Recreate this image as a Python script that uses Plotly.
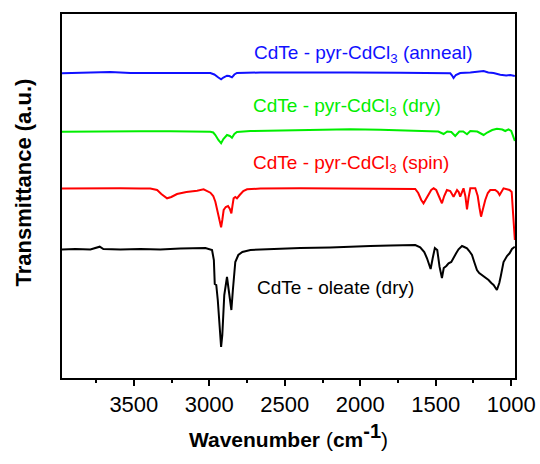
import plotly.graph_objects as go

# ---------------- data (wavenumber in cm-1, transmittance in a.u., stacked) ----------------
oleate_wn = [3976, 3887, 3788, 3726, 3702, 3589, 3457, 3325, 3192, 3060, 3026, 2982, 2970, 2964,
             2954, 2944, 2930, 2922, 2914, 2901, 2883, 2871, 2854, 2844, 2828, 2808, 2781, 2728,
             2596, 2397, 2199, 2066, 1934, 1801, 1669, 1636, 1603, 1576, 1558, 1534, 1520, 1506,
             1490, 1475, 1459, 1447, 1430, 1415, 1397, 1382, 1364, 1349, 1326, 1311, 1293, 1278,
             1260, 1245, 1227, 1212, 1194, 1172, 1150, 1132, 1117, 1095, 1079, 1069, 1051, 1028,
             1011, 995, 976]
oleate_t = [12.85, 12.9, 12.85, 13.13, 12.9, 12.85, 12.9, 12.85, 12.95, 13.0, 13.0, 12.8, 11.8, 9.4,
            9.3, 7.8, 4.3, 3.1, 4.3, 8.3, 10.1, 8.8, 6.8, 8.8, 11.6, 12.3, 12.6, 12.8,
            12.9, 13.0, 13.05, 13.15, 13.2, 13.25, 13.35, 13.3, 13.07, 12.6, 11.97, 10.9, 12.0, 13.0,
            12.8, 11.13, 10.0, 11.0, 11.2, 11.47, 11.6, 12.07, 12.5, 12.87, 13.2, 13.1, 12.97, 12.7,
            12.3, 11.6, 10.8, 10.5, 10.3, 10.0, 9.8, 9.5, 9.3, 8.8, 9.5, 10.2, 11.6, 12.2,
            12.47, 12.9, 13.13]

spin_wn = [3976, 3854, 3722, 3589, 3457, 3391, 3346, 3318, 3280, 3252, 3214, 3152, 3081, 3038,
           2993, 2974, 2960, 2945, 2930, 2922, 2914, 2905, 2891, 2876, 2864, 2854, 2846, 2839,
           2828, 2817, 2799, 2775, 2750, 2662, 2397, 2066, 1735, 1655, 1636, 1616, 1596, 1581,
           1563, 1548, 1530, 1514, 1497, 1477, 1459, 1444, 1426, 1404, 1382, 1359, 1348, 1338,
           1326, 1316, 1304, 1293, 1283, 1271, 1238, 1222, 1210, 1200, 1189, 1172, 1155, 1139,
           1106, 1089, 1077, 1063, 1051, 1011, 997, 987, 976]
spin_t = [18.95, 18.97, 18.95, 18.97, 18.95, 18.95, 18.8, 18.4, 17.97, 18.1, 18.4, 18.6, 18.73, 18.87,
          18.53, 18.2, 17.63, 16.5, 15.6, 15.07, 15.8, 16.8, 17.1, 17.2, 16.9, 16.47, 17.3, 17.97,
          18.1, 17.97, 18.3, 18.7, 18.87, 18.95, 18.97, 18.95, 18.97, 18.95, 18.9, 18.5, 17.8, 17.47,
          17.9, 18.3, 18.8, 18.97, 18.8, 18.1, 17.47, 18.2, 18.8, 18.7, 18.13, 18.8, 18.6, 18.13,
          18.7, 18.97, 18.2, 16.87, 18.0, 18.97, 18.97, 18.2, 17.0, 16.13, 16.8, 17.8, 18.5, 18.8,
          18.8, 18.6, 18.3, 18.7, 18.97, 18.8, 18.6, 16.3, 13.8]

dry_wn = [3976, 3854, 3722, 3611, 3457, 3258, 3060, 2993, 2974, 2960, 2940, 2922, 2907, 2883,
          2864, 2850, 2834, 2817, 2728, 2397, 2066, 1867, 1624, 1536, 1483, 1448, 1424, 1397,
          1371, 1344, 1318, 1293, 1271, 1225, 1205, 1183, 1159, 1126, 1095, 1059, 1040, 1018,
          1000, 987, 976]
dry_t = [24.63, 24.65, 24.67, 24.7, 24.67, 24.67, 24.65, 24.63, 24.55, 24.3, 23.8, 23.47, 23.9, 24.3,
         24.2, 24.03, 24.4, 24.6, 24.7, 24.77, 24.87, 24.82, 24.73, 24.7, 24.65, 24.4, 24.65, 24.6,
         24.2, 24.65, 24.65, 24.37, 24.7, 24.65, 24.45, 24.3, 24.55, 24.8, 24.93, 24.85, 24.7, 24.87,
         24.7, 24.2, 23.7]

anneal_wn = [3976, 3854, 3722, 3656, 3523, 3325, 3126, 2993, 2967, 2940, 2922, 2907, 2883, 2868,
             2850, 2834, 2817, 2662, 2397, 2066, 1735, 1536, 1404, 1394, 1382, 1367, 1338, 1271,
             1218, 1183, 1152, 1117, 1073, 1033, 1006, 976]
anneal_t = [30.47, 30.5, 30.55, 30.6, 30.5, 30.47, 30.5, 30.5, 30.35, 30.05, 29.87, 30.05, 30.23, 30.2,
            30.07, 30.35, 30.5, 30.55, 30.57, 30.55, 30.53, 30.5, 30.47, 30.3, 30.0, 30.3, 30.5, 30.55,
            30.6, 30.7, 30.55, 30.5, 30.33, 30.25, 30.3, 30.2]

series_names = ["CdTe - oleate (dry)", "CdTe - pyr-CdCl<sub>3</sub> (spin)",
                "CdTe - pyr-CdCl<sub>3</sub> (dry)", "CdTe - pyr-CdCl<sub>3</sub> (anneal)"]
series_colors = ["#000000", "#ff0000", "#00ee00", "#1010ff"]
series_x = [oleate_wn, spin_wn, dry_wn, anneal_wn]
series_y = [oleate_t, spin_t, dry_t, anneal_t]

tick_vals = [3500, 3000, 2500, 2000, 1500, 1000]
tick_text = ["3500", "3000", "2500", "2000", "1500", "1000"]

# label anchor positions (data coordinates)
label_x = [2162, 2063, 2088, 1980]
label_y = [9.1, 21.4, 27.1, 32.45]

FONT = "Liberation Sans, Arial, Helvetica, sans-serif"

fig = go.Figure()
for xs, ys, name, col in zip(series_x, series_y, series_names, series_colors):
    fig.add_trace(go.Scatter(x=xs, y=ys, mode="lines", name=name,
                             line=dict(color=col, width=2), showlegend=False))

for name, col, lx, ly in zip(series_names, series_colors, label_x, label_y):
    fig.add_annotation(x=lx, y=ly, xref="x", yref="y", text=name, showarrow=False,
                       font=dict(family=FONT, size=19, color=col),
                       xanchor="center", yanchor="middle")

# y-axis title (placed as a rotated text, slightly above the axis centre as in the reference)
fig.add_annotation(x=-0.084, y=0.537, xref="paper", yref="paper",
                   text="<b>Transmittance (a.u.)</b>", showarrow=False, textangle=-90,
                   font=dict(family=FONT, size=22, color="black"),
                   xanchor="center", yanchor="middle")

fig.update_layout(
    width=540, height=464,
    margin=dict(l=62, r=25, t=14, b=86),
    paper_bgcolor="white", plot_bgcolor="white",
    font=dict(family=FONT, color="black"),
)
fig.update_xaxes(
    range=[3976, 975], autorange=False, automargin=False,
    tickmode="array", tickvals=tick_vals, ticktext=tick_text,
    ticks="outside", ticklen=6, tickwidth=2, tickcolor="black",
    tickfont=dict(family=FONT, size=22, color="black"),
    minor=dict(ticks="outside", ticklen=3, tickwidth=2, tickcolor="black", dtick=250, tick0=1000),
    showline=True, linewidth=2, linecolor="black", mirror=True,
    showgrid=False, zeroline=False,
    title=dict(text="<b>Wavenumber</b> (<b>cm<sup><span style='font-size:20px'>-1</span></sup></b>)",
               font=dict(family=FONT, size=21, color="black"), standoff=16),
)
fig.update_yaxes(
    range=[0, 36.4], autorange=False, automargin=False,
    showticklabels=False, ticks="",
    showline=True, linewidth=2, linecolor="black", mirror=True,
    showgrid=False, zeroline=False,
)

fig.write_html("out.html", config={"displayModeBar": False},
               post_script="document.body.style.margin='0px';")
